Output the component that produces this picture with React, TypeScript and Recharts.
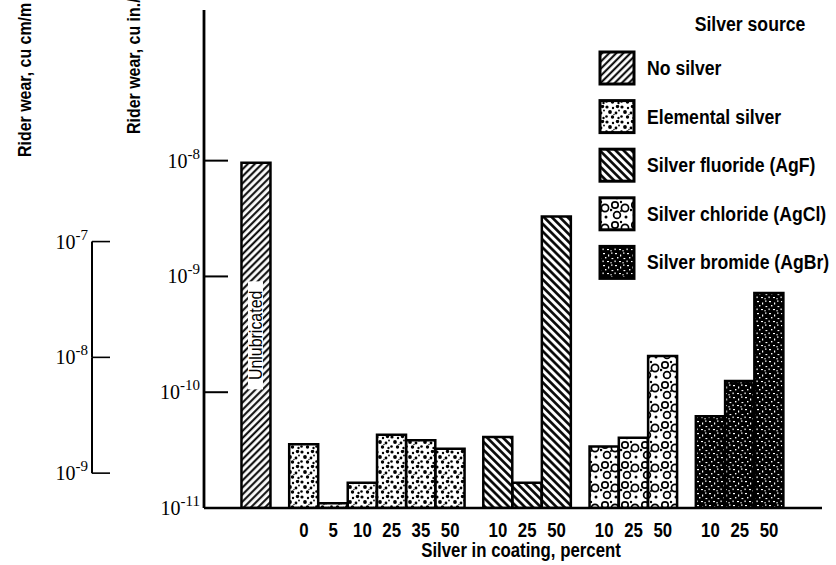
import React from "react"
import { Bar, BarChart, Cell, Legend, XAxis, YAxis } from "recharts"

// silver source groups, in drawing order
const sources = [
  "No silver",
  "Elemental silver",
  "Silver fluoride (AgF)",
  "Silver chloride (AgCl)",
  "Silver bromide (AgBr)",
]
const patternIds = ["pat-none", "pat-elemental", "pat-agf", "pat-agcl", "pat-agbr"]

// silver in coating, percent (null = unlubricated reference bar)
const noSilverPercent = [null]
const elementalPercent = [0, 5, 10, 25, 35, 50]
const fluoridePercent = [10, 25, 50]
const chloridePercent = [10, 25, 50]
const bromidePercent = [10, 25, 50]

// rider wear, cu in./ft
const noSilverWear = [9.6e-9]
const elementalWear = [3.55e-11, 1.1e-11, 1.65e-11, 4.3e-11, 3.85e-11, 3.25e-11]
const fluorideWear = [4.1e-11, 1.65e-11, 3.3e-9]
const chlorideWear = [3.4e-11, 4.05e-11, 2.05e-10]
const bromideWear = [6.2e-11, 1.25e-10, 7.2e-10]

const inTicks = [1e-11, 1e-10, 1e-9, 1e-8]
const cmTicks = [1e-9, 1e-8, 1e-7]

const percents = [noSilverPercent, elementalPercent, fluoridePercent, chloridePercent, bromidePercent]
const wears = [noSilverWear, elementalWear, fluorideWear, chlorideWear, bromideWear]

const GROUP_GAP = 0.63
const rows: { pos: number; wear: number; group: number; percent: number | null }[] = []
let barCount = 0
wears.forEach((list, g) => {
  list.forEach((w, i) => {
    rows.push({ pos: barCount + GROUP_GAP * g, wear: w, group: g, percent: percents[g][i] })
    barCount++
  })
})
const xTicks = rows.filter((r) => r.percent !== null).map((r) => r.pos)

const FONT_SANS = "'Liberation Sans', Arial, sans-serif"
const FONT_SERIF = "'Liberation Serif', 'DejaVu Serif', serif"
const SQUEEZE = 0.84

const WIDTH = 836
const HEIGHT = 565
const MARGIN = { top: 10, right: 14, bottom: 0, left: 0 }
const X_AXIS_H = 57
const PLOT_H = HEIGHT - MARGIN.top - MARGIN.bottom - X_AXIS_H
const IN_DOMAIN = [1e-11, 2e-7]
const CM_FACTOR = 50
const CM_DOMAIN = [IN_DOMAIN[0] * CM_FACTOR, IN_DOMAIN[1] * CM_FACTOR]
const DECADE_PX = PLOT_H / Math.log10(IN_DOMAIN[1] / IN_DOMAIN[0])
const TICK_MARGIN = 4

// condensed lettering: regular sans squeezed horizontally
function NarrowText(props: {
  px: number
  py: number
  size: number
  children: React.ReactNode
  weight?: number
  anchor?: "start" | "middle" | "end"
  rotate?: boolean
}) {
  const { px, py, size, children, weight = 700, anchor = "start", rotate = false } = props
  const t = `translate(${px},${py})${rotate ? " rotate(-90)" : ""} scale(${SQUEEZE},1)`
  return (
    <text transform={t} textAnchor={anchor} fontFamily={FONT_SANS} fontWeight={weight} fontSize={size} fill="#000">
      {children}
    </text>
  )
}

function Patterns() {
  return (
    <svg width={0} height={0} style={{ position: "absolute" }}>
      <defs>
        <pattern id="pat-none" width={5} height={5} patternUnits="userSpaceOnUse" patternTransform="rotate(45)">
          <rect width={5} height={5} fill="#fff" />
          <line x1={1.2} y1={0} x2={1.2} y2={5} stroke="#000" strokeWidth={2} />
        </pattern>
        <pattern id="pat-agf" width={5.6} height={5.6} patternUnits="userSpaceOnUse" patternTransform="rotate(-45)">
          <rect width={5.6} height={5.6} fill="#fff" />
          <line x1={1.4} y1={0} x2={1.4} y2={5.6} stroke="#000" strokeWidth={2.6} />
        </pattern>
        <pattern id="pat-elemental" width={15} height={15} patternUnits="userSpaceOnUse">
          <rect width={15} height={15} fill="#fff" />
          <circle cx={2} cy={2} r={1.6} fill="#000" />
          <circle cx={8} cy={3} r={1.2} fill="#000" />
          <circle cx={12.5} cy={1.5} r={1.7} fill="#000" />
          <circle cx={5} cy={7} r={1.9} fill="#000" />
          <circle cx={11} cy={8} r={1.4} fill="#000" />
          <circle cx={1.5} cy={11.5} r={1.3} fill="#000" />
          <circle cx={7.5} cy={12} r={1.7} fill="#000" />
          <circle cx={13.5} cy={13} r={1.2} fill="#000" />
          <circle cx={14} cy={5.5} r={0.9} fill="#000" />
          <circle cx={9} cy={9.5} r={0.7} fill="#000" />
        </pattern>
        <pattern id="pat-agcl" width={20} height={20} patternUnits="userSpaceOnUse">
          <rect width={20} height={20} fill="#fff" />
          <circle cx={5} cy={5} r={3.2} fill="none" stroke="#000" strokeWidth={1.7} />
          <circle cx={15} cy={8} r={3.6} fill="none" stroke="#000" strokeWidth={1.7} />
          <circle cx={7} cy={15} r={3.4} fill="none" stroke="#000" strokeWidth={1.7} />
          <circle cx={16} cy={17} r={1.5} fill="#000" />
          <circle cx={11} cy={2} r={1.2} fill="#000" />
          <circle cx={1} cy={10} r={1.3} fill="#000" />
          <circle cx={11} cy={11} r={1} fill="#000" />
        </pattern>
        <pattern id="pat-agbr" width={12} height={12} patternUnits="userSpaceOnUse">
          <rect width={12} height={12} fill="#000" />
          <rect x={1} y={1} width={2} height={1.2} fill="#fff" />
          <rect x={6} y={2.5} width={1.2} height={2} fill="#fff" />
          <rect x={9} y={0.5} width={1.5} height={1.2} fill="#fff" />
          <rect x={3} y={5} width={1.4} height={1.4} fill="#fff" />
          <rect x={9.5} y={6} width={1.8} height={1.1} fill="#fff" />
          <rect x={0.5} y={8.5} width={1.2} height={1.6} fill="#fff" />
          <rect x={5} y={9} width={2} height={1.1} fill="#fff" />
          <rect x={8.5} y={10} width={1.1} height={1.4} fill="#fff" />
        </pattern>
      </defs>
    </svg>
  )
}

function PowerLabel({ x, y, exp }: { x: number; y: number; exp: number }) {
  return (
    <text x={x} y={y + 7} textAnchor="end" fontFamily={FONT_SERIF} fontSize={20} fill="#000">
      10
      <tspan dy={-9} fontSize={15}>
        {String(exp)}
      </tspan>
    </text>
  )
}

function InTick(props: any) {
  const { x, y, payload } = props
  const exp = Math.round(Math.log10(payload.value))
  const axisX = x + TICK_MARGIN
  return (
    <g>
      <PowerLabel x={x} y={y} exp={exp} />
      <line x1={axisX} x2={axisX + 24} y1={y} y2={y} stroke="#000" strokeWidth={2} />
    </g>
  )
}

function CmTick(props: any) {
  const { x, y, payload } = props
  const exp = Math.round(Math.log10(payload.value))
  const axisX = x + TICK_MARGIN
  const lowest = Math.round(Math.log10(cmTicks[0]))
  return (
    <g>
      <PowerLabel x={x} y={y} exp={exp} />
      <line x1={axisX} x2={axisX + 18} y1={y} y2={y} stroke="#000" strokeWidth={1.6} />
      {exp > lowest && (
        <line x1={axisX} x2={axisX} y1={y} y2={y + DECADE_PX} stroke="#000" strokeWidth={2} />
      )}
    </g>
  )
}

function XTick(props: any) {
  const { x, y, payload } = props
  const r = rows.find((row) => row.pos === payload.value)
  if (!r || r.percent === null) return null
  return (
    <NarrowText px={x} py={y + 14} size={20} anchor="middle">
      {String(r.percent)}
    </NarrowText>
  )
}

function AxisTitle({ text, tx, ty }: { text: string; tx: number; ty: number }) {
  return (
    <NarrowText px={tx} py={ty} size={19} rotate>
      {text}
    </NarrowText>
  )
}

function XTitle() {
  return (
    <NarrowText px={521} py={557} size={20} anchor="middle">
      Silver in coating, percent
    </NarrowText>
  )
}

function BarNote(props: any) {
  const x = Number(props.x)
  const y = Number(props.y)
  const width = Number(props.width)
  const height = Number(props.height)
  const row = rows[props.index]
  if (!row || row.percent !== null) return null
  const cx = x + width / 2
  const cy = y + height / 2
  return (
    <g>
      <rect x={cx - 8} y={cy - 54} width={15} height={108} fill="#fff" />
      <NarrowText px={cx + 6} py={cy} size={19} weight={400} anchor="middle" rotate>
        Unlubricated
      </NarrowText>
    </g>
  )
}

function SourceLegend() {
  return (
    <svg width={246} height={290} style={{ display: "block" }}>
      <NarrowText px={160} py={31} size={21} anchor="middle">
        Silver source
      </NarrowText>
      {sources.map((name, i) => {
        const cy = 68 + i * 48.6
        return (
          <g key={name}>
            <rect
              x={10}
              y={cy - 16}
              width={34}
              height={32}
              fill={`url(#${patternIds[i]})`}
              stroke="#000"
              strokeWidth={3}
            />
            <NarrowText px={57} py={cy + 7} size={21}>
              {name}
            </NarrowText>
          </g>
        )
      })}
    </svg>
  )
}

export default function App() {
  return (
    <div style={{ position: "absolute", left: 0, top: 0, background: "#fff" }}>
      <Patterns />
      <BarChart width={WIDTH} height={HEIGHT} data={rows} margin={MARGIN}>
        <XAxis
          dataKey="pos"
          type="number"
          domain={[-1.78, 19.33]}
          allowDataOverflow
          ticks={xTicks}
          interval={0}
          height={X_AXIS_H}
          tickLine={false}
          tickSize={0}
          tickMargin={15}
          axisLine={{ stroke: "#000", strokeWidth: 2.5 }}
          tick={<XTick />}
          label={<XTitle />}
        />
        <YAxis
          yAxisId="inner"
          scale="log"
          type="number"
          domain={IN_DOMAIN}
          allowDataOverflow
          ticks={inTicks}
          interval={0}
          width={112}
          tickLine={false}
          tickSize={0}
          tickMargin={TICK_MARGIN}
          axisLine={{ stroke: "#000", strokeWidth: 2.8 }}
          tick={<InTick />}
          label={<AxisTitle text="Rider wear, cu in./ft" tx={140} ty={134} />}
        />
        <YAxis
          yAxisId="outer"
          scale="log"
          type="number"
          domain={CM_DOMAIN}
          allowDataOverflow
          ticks={cmTicks}
          interval={0}
          width={92}
          tickLine={false}
          tickSize={0}
          tickMargin={TICK_MARGIN}
          axisLine={false}
          tick={<CmTick />}
          label={<AxisTitle text="Rider wear, cu cm/m" tx={31} ty={157} />}
        />
        <Legend
          layout="vertical"
          align="center"
          verticalAlign="middle"
          wrapperStyle={{ left: 590, top: 0, width: 246, height: 290 }}
          content={() => <SourceLegend />}
        />
        <Bar
          dataKey="wear"
          yAxisId="inner"
          barSize={29}
          stroke="#000"
          strokeWidth={2.5}
          isAnimationActive={false}
          label={<BarNote />}
        >
          {rows.map((r, i) => (
            <Cell key={i} fill={`url(#${patternIds[r.group]})`} />
          ))}
        </Bar>
      </BarChart>
    </div>
  )
}
